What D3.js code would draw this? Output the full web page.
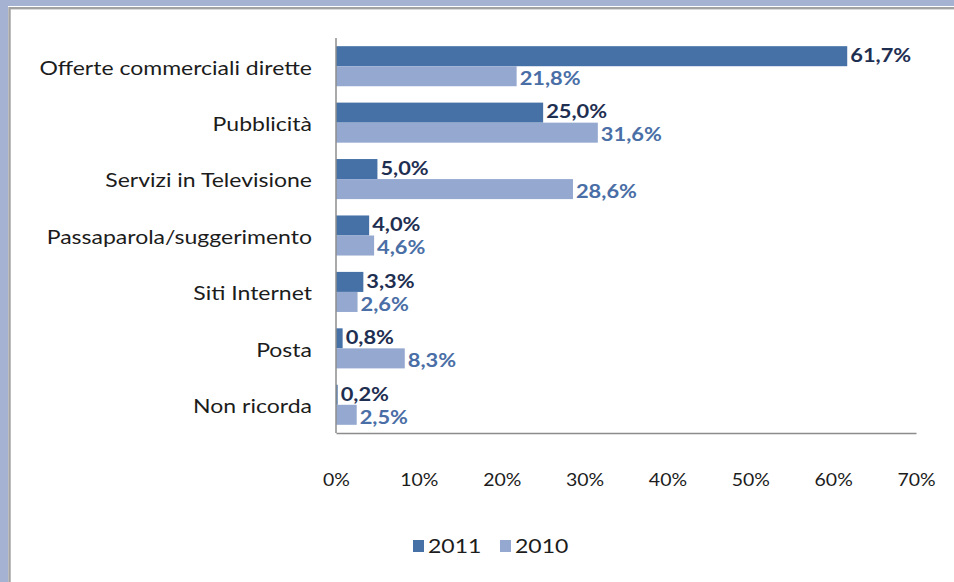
<!DOCTYPE html>
<html>
<head>
<meta charset="utf-8">
<script src="https://cdn.jsdelivr.net/npm/d3@7"></script>
<style>
  html, body { margin: 0; padding: 0; background: #fff; }
  svg { display: block; }
  text { font-family: Lato, "Open Sans", sans-serif; }
</style>
</head>
<body>
<svg id="chart" width="954" height="582"></svg>
<script>
// Source of first contact, survey 2011 vs 2010 (percent)
const categories = [
  "Offerte commerciali dirette",
  "Pubblicità",
  "Servizi in Televisione",
  "Passaparola/suggerimento",
  "Siti Internet",
  "Posta",
  "Non ricorda"
];
const values2011 = [61.7, 25.0, 5.0, 4.0, 3.3, 0.8, 0.2];
const values2010 = [21.8, 31.6, 28.6, 4.6, 2.6, 8.3, 2.5];
const seriesNames = ["2011", "2010"];
const tickValues = [0, 10, 20, 30, 40, 50, 60, 70];

const colors = { "2011": "#4571a7", "2010": "#95a9d0" };
const labelColors = { "2011": "#1f2f52", "2010": "#4a6ea6" };
// small vertical nudge so stacked value labels do not collide
const labelShift = { "2011": -1.5, "2010": 1.5 };

// text is drawn slightly widened to match the wide Calibri-like lettering
const SX = 1.18;

const svg = d3.select("#chart");
const W = 954, H = 582;

// window frame
svg.append("rect").attr("width", W).attr("height", H).attr("fill", "#a6b2d2");
svg.append("rect").attr("x", 8).attr("y", 6).attr("width", W).attr("height", H).attr("fill", "#fff");
svg.append("rect").attr("x", 9.5).attr("y", 8.2).attr("width", W + 10).attr("height", H + 10)
  .attr("fill", "#fff").attr("stroke", "#a2a2a2").attr("stroke-width", 2.4);

const plot = { left: 336, right: 916, top: 38, bottom: 433 };

const x = d3.scaleLinear().domain([0, 70]).range([plot.left, plot.right]);
const y = d3.scaleBand().domain(categories).range([plot.top, plot.bottom]).paddingInner(0.29).paddingOuter(0.145);
const ySub = d3.scaleBand().domain(seriesNames).range([0, y.bandwidth()]);

const fmt = v => d3.format(".1f")(v).replace(".", ",") + "%";

const rows = categories.map((c, i) => ({ cat: c, "2011": values2011[i], "2010": values2010[i] }));

// bars and value labels
const groups = svg.append("g").selectAll("g").data(rows).join("g")
  .attr("transform", d => `translate(0,${y(d.cat)})`);

seriesNames.forEach(s => {
  groups.append("rect")
    .attr("x", x(0))
    .attr("y", ySub(s))
    .attr("width", d => x(d[s]) - x(0))
    .attr("height", ySub.bandwidth())
    .attr("fill", colors[s]);
  groups.append("text")
    .attr("transform", d => `translate(${x(d[s]) + 3},${ySub(s) + ySub.bandwidth() / 2 + labelShift[s]}) scale(${SX},1)`)
    .attr("dominant-baseline", "central")
    .attr("font-size", 18.5)
    .attr("font-weight", "bold")
    .attr("fill", labelColors[s])
    .text(d => fmt(d[s]));
});

// category labels
svg.append("g").selectAll("text").data(categories).join("text")
  .attr("transform", d => `translate(312,${y(d) + y.bandwidth() / 2 + 1}) scale(${SX},1)`)
  .attr("text-anchor", "end")
  .attr("dominant-baseline", "central")
  .attr("font-size", 19.5)
  .attr("fill", "#1c1c1c")
  .text(d => d);

// axes
const axisY = d3.axisLeft(y).tickSize(0).tickFormat("");
svg.append("g").attr("transform", `translate(${plot.left},0)`).call(axisY)
  .call(g => g.select(".domain").attr("stroke", "#8c8c8c").attr("stroke-width", 1.5).attr("d", `M0,${plot.top}V${plot.bottom}`));

const axisX = d3.axisBottom(x).tickValues(tickValues).tickSize(0).tickPadding(41).tickFormat(d => d + "%");
svg.append("g").attr("transform", `translate(0,${plot.bottom})`).call(axisX)
  .call(g => g.select(".domain").attr("stroke", "#8c8c8c").attr("stroke-width", 1.5))
  .call(g => g.selectAll("text").attr("font-size", 16.5).attr("fill", "#1c1c1c")
    .attr("font-family", "Lato, 'Open Sans', sans-serif")
    .attr("transform", `scale(${SX},1)`));

// legend
const legend = svg.append("g").attr("transform", "translate(413,546)");
const items = [{ s: "2011", x: 0 }, { s: "2010", x: 87 }];
items.forEach(it => {
  legend.append("rect").attr("x", it.x).attr("y", -6).attr("width", 11).attr("height", 12).attr("fill", colors[it.s]);
  legend.append("text")
    .attr("transform", `translate(${it.x + 15},0) scale(${SX},1)`)
    .attr("dominant-baseline", "central")
    .attr("font-size", 19.5).attr("fill", "#1c1c1c").text(it.s);
});
</script>
</body>
</html>
